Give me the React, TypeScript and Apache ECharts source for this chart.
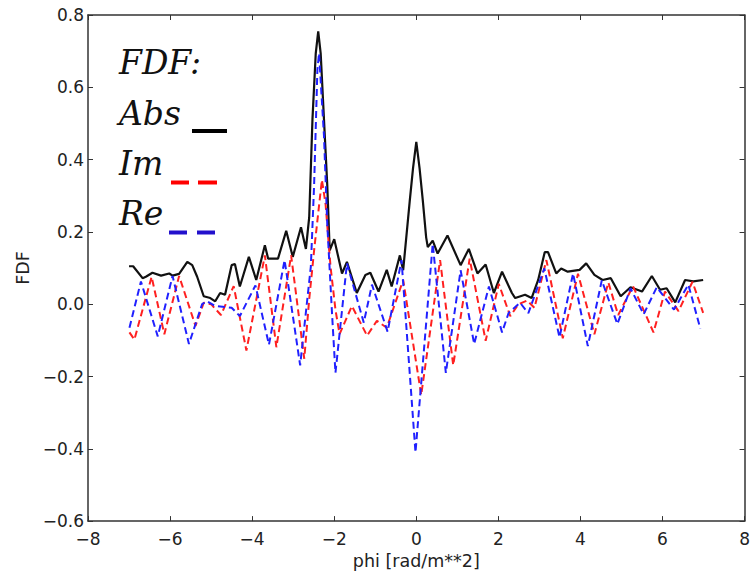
import React, { useEffect, useRef } from "react";
import * as echarts from "echarts";

// Abs(FDF) – solid black
const phiAbs = [
  -7.0, -6.9, -6.67, -6.59, -6.43, -6.22, -6.02, -5.94, -5.78, -5.58, -5.46, -5.34, -5.18, -5.02, -4.9,
  -4.78, -4.66, -4.5, -4.42, -4.3, -4.08, -3.9, -3.69, -3.61, -3.37, -3.17, -3.01, -2.81, -2.69, -2.61,
  -2.53, -2.45, -2.39, -2.33, -2.25, -2.17, -2.11, -2.0, -1.81, -1.69, -1.45, -1.24, -1.12, -0.92, -0.72,
  -0.6, -0.4, -0.32, -0.16, -0.08, 0, 0.08, 0.16, 0.24, 0.28, 0.4, 0.52, 0.76, 1.08, 1.28, 1.49, 1.69,
  1.89, 2.09, 2.33, 2.41, 2.65, 2.81, 2.97, 3.13, 3.21, 3.41, 3.53, 3.69, 3.98, 4.14, 4.34, 4.54, 4.74,
  4.98, 5.22, 5.5, 5.74, 5.94, 6.1, 6.31, 6.55, 6.75, 6.99,
];
const fdfAbs = [
  0.105, 0.105, 0.072, 0.076, 0.087, 0.079, 0.085, 0.079, 0.084, 0.117, 0.108, 0.076, 0.022, 0.017, 0.008,
  0.031, 0.026, 0.108, 0.111, 0.049, 0.131, 0.067, 0.163, 0.126, 0.126, 0.203, 0.131, 0.213, 0.153, 0.24,
  0.512, 0.694, 0.755, 0.694, 0.512, 0.33, 0.149, 0.18, 0.085, 0.117, 0.031, 0.081, 0.087, 0.035, 0.095,
  0.049, 0.135, 0.094, 0.285, 0.376, 0.449, 0.376, 0.285, 0.185, 0.158, 0.176, 0.14, 0.19, 0.108, 0.153, 0.085, 0.11,
  0.031, 0.09, 0.031, 0.017, 0.026, 0.017, 0.067, 0.144, 0.144, 0.085, 0.099, 0.09, 0.095, 0.113, 0.081, 0.067, 0.072,
  0.022, 0.047, 0.035, 0.078, 0.04, 0.044, 0.005, 0.067, 0.063, 0.067,
];

// Im(FDF) – red dashed
const phiIm = [
  -6.99, -6.87, -6.45, -6.14, -5.78, -5.38, -5.18, -5.0, -4.76, -4.45, -4.14, -3.69, -3.41, -3.05, -2.73,
  -2.61, -2.49, -2.3, -2.21, -2.09, -1.97, -1.87, -1.57, -1.2, -0.96, -0.72, -0.32, 0.12, 0.58, 0.9, 1.3,
  1.69, 2.01, 2.29, 2.49, 2.7, 2.88, 3.17, 3.57, 3.94, 4.34, 4.68, 4.92, 5.28, 5.78, 6.06, 6.39, 6.73, 6.99,
];
const fdfIm = [
  -0.078, -0.098, 0.076, -0.083, 0.078, -0.06, 0.004, 0.0, -0.03, 0.05, -0.128, 0.135, -0.119, 0.135, -0.151,
  0.013, 0.149, 0.344, 0.276, 0.104, -0.015, -0.083, -0.005, -0.087, -0.046, -0.065, 0.067, -0.251, 0.122, -0.169, 0.126,
  -0.101, 0.056, -0.033, 0.0, 0.01, -0.01, 0.122, -0.094, 0.084, -0.083, 0.06, -0.03, 0.05, -0.078, 0.035, -0.019, 0.062, -0.024,
];

// Re(FDF) – blue dashed
const phiRe = [
  -6.99, -6.71, -6.3, -5.94, -5.54, -5.22, -5.1, -4.9, -4.5, -4.3, -3.92, -3.59, -3.21, -2.83, -2.57,
  -2.49, -2.41, -2.37, -2.25, -2.17, -2.05, -1.97, -1.69, -1.28, -1.08, -0.7, -0.36, -0.02, 0.4, 0.72, 1.08,
  1.41, 1.77, 2.09, 2.25, 2.53, 2.73, 3.12, 3.49, 3.82, 4.18, 4.52, 4.9, 5.22, 5.54, 5.86, 6.28, 6.63, 6.92,
];
const fdfRe = [
  -0.065, 0.063, -0.089, 0.078, -0.11, 0.0, 0.008, -0.005, -0.01, -0.033, 0.052, -0.112, 0.122, -0.169, 0.104,
  0.33, 0.649, 0.694, 0.467, 0.222, -0.033, -0.19, 0.113, -0.051, 0.054, -0.076, 0.122, -0.41, 0.167, -0.19, 0.094,
  -0.11, 0.049, -0.078, -0.024, 0.004, -0.025, 0.099, -0.092, 0.085, -0.116, 0.066, -0.055, 0.044, -0.028, 0.047, -0.015, 0.054, -0.067,
];

const xRange = [-8, 8];
const xStep = 2;
const yRange = [-0.6, 0.8];
const yStep = 0.2;

const xAxisTitle = "phi [rad/m**2]";
const yAxisTitle = "FDF";
const legendTitle = "FDF:";
const legendLabels = ["Abs", "Im", "Re"];

const minus = (s: string) => s.replace("-", "\u2212");

export default function App() {
  const ref = useRef<HTMLDivElement>(null);
  useEffect(() => {
    if (!ref.current) return;
    const chart = echarts.init(ref.current, undefined, { renderer: "svg" });
    const tickFont = { fontFamily: "DejaVu Sans", fontSize: 17, color: "#222" };
    const axisLine = { show: true, onZero: false, lineStyle: { color: "#333", width: 1.5 } };
    const axisTick = { show: true, inside: true, length: 5, lineStyle: { color: "#333", width: 1 } };
    const legendFont = "italic 33px 'DejaVu Serif'";
    const pairs = (xs: number[], ys: number[]) => xs.map((x, i) => [x, ys[i]]);
    chart.setOption({
      animation: false,
      backgroundColor: "#fff",
      grid: { left: 88, right: 3, top: 15, bottom: 44, containLabel: false },
      xAxis: [
        {
          type: "value",
          min: xRange[0],
          max: xRange[1],
          interval: xStep,
          position: "bottom",
          name: xAxisTitle,
          nameLocation: "middle",
          nameGap: 26,
          nameTextStyle: { fontFamily: "DejaVu Sans", fontSize: 17.5, color: "#222" },
          axisLine,
          axisTick,
          splitLine: { show: false },
          axisLabel: {
            ...tickFont,
            margin: 9,
            formatter: (v: number) => minus(String(Math.round(v))),
          },
        },
        {
          type: "value",
          min: xRange[0],
          max: xRange[1],
          interval: xStep,
          position: "top",
          axisLine,
          axisTick,
          splitLine: { show: false },
          axisLabel: { show: false },
        },
      ],
      yAxis: [
        {
          type: "value",
          min: yRange[0],
          max: yRange[1],
          interval: yStep,
          position: "left",
          name: yAxisTitle,
          nameLocation: "middle",
          nameGap: 49,
          nameRotate: 90,
          nameTextStyle: { fontFamily: "DejaVu Sans", fontSize: 17.5, color: "#222" },
          axisLine,
          axisTick,
          splitLine: { show: false },
          axisLabel: {
            ...tickFont,
            margin: 4,
            formatter: (v: number) => (Math.abs(v) < 1e-9 ? "0.0" : minus(v.toFixed(1))),
          },
        },
        {
          type: "value",
          min: yRange[0],
          max: yRange[1],
          interval: yStep,
          position: "right",
          axisLine,
          axisTick,
          splitLine: { show: false },
          axisLabel: { show: false },
        },
      ],
      series: [
        {
          name: legendLabels[0],
          type: "line",
          data: pairs(phiAbs, fdfAbs),
          showSymbol: false,
          lineStyle: { color: "#111", width: 2.2 },
          z: 2,
        },
        {
          name: legendLabels[1],
          type: "line",
          data: pairs(phiIm, fdfIm),
          showSymbol: false,
          lineStyle: { color: "#ff2020", width: 2, type: [7, 4] },
          z: 3,
        },
        {
          name: legendLabels[2],
          type: "line",
          data: pairs(phiRe, fdfRe),
          showSymbol: false,
          lineStyle: { color: "#2020ff", width: 2, type: [7, 4] },
          z: 4,
        },
      ],
      graphic: [
        { type: "text", left: 119, top: 46, style: { text: legendTitle, font: legendFont, fill: "#111" } },
        { type: "text", left: 119, top: 97, style: { text: legendLabels[0], font: legendFont, fill: "#111" } },
        { type: "text", left: 119, top: 147, style: { text: legendLabels[1], font: legendFont, fill: "#111" } },
        { type: "text", left: 119, top: 197, style: { text: legendLabels[2], font: legendFont, fill: "#111" } },
        { type: "rect", shape: { x: 192, y: 129, width: 35, height: 4 }, style: { fill: "#000" } },
        { type: "rect", shape: { x: 171, y: 180.5, width: 18, height: 4 }, style: { fill: "#ff0000" } },
        { type: "rect", shape: { x: 198, y: 180.5, width: 19, height: 4 }, style: { fill: "#ff0000" } },
        { type: "rect", shape: { x: 169, y: 230.5, width: 18, height: 4 }, style: { fill: "#2210cc" } },
        { type: "rect", shape: { x: 197, y: 230.5, width: 18, height: 4 }, style: { fill: "#2210cc" } },
      ],
    });
    return () => chart.dispose();
  }, []);
  return (
    <div
      ref={ref}
      style={{ position: "fixed", left: 0, top: 0, width: 753, height: 575, background: "#fff" }}
    />
  );
}
